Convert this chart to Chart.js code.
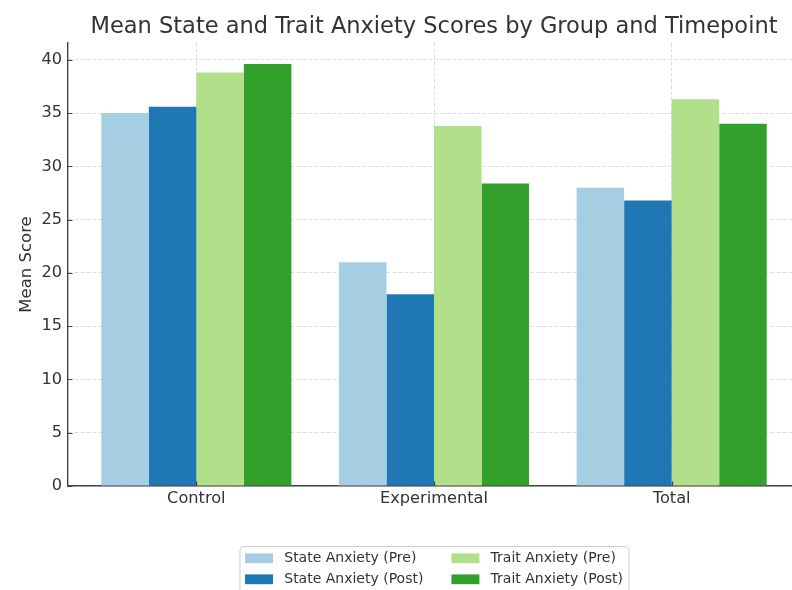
<!DOCTYPE html>
<html>
<head>
<meta charset="utf-8">
<script src="https://cdn.jsdelivr.net/npm/chart.js@4/dist/chart.umd.min.js"></script>
<style>
  html, body { margin: 0; padding: 0; background: #ffffff; overflow: hidden; }
  #wrap { width: 868px; height: 590px; }
</style>
</head>
<body>
<div id="wrap"><canvas id="chart" width="868" height="590"></canvas></div>
<script>
// Groups on the x axis
const groups = ['Control', 'Experimental', 'Total'];

// Mean scores per group
const statePre  = [35.0, 21.0, 28.0];
const statePost = [35.6, 18.0, 26.8];
const traitPre  = [38.8, 33.8, 36.3];
const traitPost = [39.6, 28.4, 34.0];

const seriesLabels = ['State Anxiety (Pre)', 'State Anxiety (Post)', 'Trait Anxiety (Pre)', 'Trait Anxiety (Post)'];
const seriesColors = ['#a6cee3', '#1f78b4', '#b2df8a', '#33a02c'];
const seriesValues = [statePre, statePost, traitPre, traitPost];

// y-axis tick labels
const yTicks = [0, 5, 10, 15, 20, 25, 30, 35, 40];

const FONT = '"DejaVu Sans", "Liberation Sans", sans-serif';
const TEXT = '#333333';

const datasets = seriesValues.map((vals, s) => ({
  label: seriesLabels[s],
  data: vals.map((v, i) => ({ x: i, y: v })),
  backgroundColor: seriesColors[s],
  borderWidth: 0,
  categoryPercentage: 0.8,
  barPercentage: 1.0
}));

// Small tick marks pointing into the plot area
const innerTicks = {
  id: 'innerTicks',
  afterDatasetsDraw(chart) {
    const { ctx, chartArea, scales } = chart;
    ctx.save();
    ctx.strokeStyle = '#444444';
    ctx.lineWidth = 1.2;
    ctx.beginPath();
    scales.y.ticks.forEach(t => {
      const py = Math.round(scales.y.getPixelForValue(t.value)) + 0.5;
      ctx.moveTo(chartArea.left, py);
      ctx.lineTo(chartArea.left + 4.5, py);
    });
    scales.x.ticks.forEach(t => {
      const px = Math.round(scales.x.getPixelForValue(t.value)) + 0.5;
      ctx.moveTo(px, chartArea.bottom);
      ctx.lineTo(px, chartArea.bottom - 4.5);
    });
    ctx.stroke();
    ctx.restore();
  }
};

// Boxed legend laid out in two columns (column-major)
const pairedLegend = {
  id: 'pairedLegend',
  afterDraw(chart) {
    const { ctx } = chart;
    const ds = chart.data.datasets;
    const fs = 14;
    const nRows = 2;
    const handleW = 2.0 * fs, handleH = 0.7 * fs;
    const textGap = 0.8 * fs, colGap = 2.0 * fs, pad = 0.4 * fs;
    const rowH = 21;
    ctx.save();
    ctx.font = fs + 'px ' + FONT;
    const cols = [];
    for (let i = 0; i < ds.length; i += nRows) cols.push(ds.slice(i, i + nRows));
    const colW = cols.map(c => handleW + textGap + Math.max(...c.map(d => ctx.measureText(d.label).width)));
    const boxW = pad * 2 + colW.reduce((a, b) => a + b, 0) + colGap * (cols.length - 1);
    const boxX = chart.width / 2 - boxW / 2;
    const boxY = chart.chartArea.bottom + 60;
    ctx.beginPath();
    ctx.roundRect(boxX + 0.5, boxY + 0.5, boxW, nRows * rowH + 20, 4);
    ctx.fillStyle = 'rgba(255,255,255,0.85)';
    ctx.fill();
    ctx.strokeStyle = '#cccccc';
    ctx.lineWidth = 1;
    ctx.stroke();
    let x = boxX + pad;
    cols.forEach((c, ci) => {
      c.forEach((d, ri) => {
        const cy = boxY + 12.3 + ri * rowH;
        ctx.fillStyle = d.backgroundColor;
        ctx.fillRect(x, cy - handleH / 2, handleW, handleH);
        ctx.fillStyle = TEXT;
        ctx.textBaseline = 'middle';
        ctx.textAlign = 'left';
        ctx.fillText(d.label, x + handleW + textGap, cy + 0.5);
      });
      x += colW[ci] + colGap;
    });
    ctx.restore();
  }
};

const gridStyle = { color: '#dadada', lineWidth: 0.9, drawTicks: false, offset: false };
const borderStyle = { display: true, color: '#444444', width: 1.4, dash: [4, 2] };

new Chart(document.getElementById('chart'), {
  type: 'bar',
  data: { datasets },
  plugins: [innerTicks, pairedLegend],
  options: {
    responsive: false,
    animation: false,
    layout: { padding: 0 },
    plugins: {
      legend: { display: false },
      tooltip: { enabled: false },
      title: {
        display: true,
        text: 'Mean State and Trait Anxiety Scores by Group and Timepoint',
        color: TEXT,
        font: { family: FONT, size: 22.5, weight: 'normal', lineHeight: 1.2 },
        padding: { top: 13.8, bottom: 2.2 }
      }
    },
    scales: {
      x: {
        type: 'linear',
        offset: false,
        min: -0.54,
        max: 2.54,
        grid: gridStyle,
        border: borderStyle,
        afterBuildTicks: scale => { scale.ticks = groups.map((g, i) => ({ value: i })); },
        afterFit: scale => { scale.height = 104; },
        ticks: {
          color: TEXT,
          font: { family: FONT, size: 16.2 },
          padding: 3,
          maxRotation: 0,
          autoSkip: false,
          callback: v => groups[v]
        }
      },
      y: {
        type: 'linear',
        min: 0,
        max: 41.58,
        grid: gridStyle,
        border: borderStyle,
        afterBuildTicks: scale => { scale.ticks = yTicks.map(v => ({ value: v })); },
        afterFit: scale => { scale.width = 68; },
        title: {
          display: true,
          text: 'Mean Score',
          color: TEXT,
          font: { family: FONT, size: 16.5, lineHeight: 1.2 },
          padding: { top: 16.5, bottom: 0 }
        },
        ticks: {
          color: TEXT,
          font: { family: FONT, size: 16.2 },
          padding: 6
        }
      },
      // empty margin on the right of the plot area
      yRight: {
        type: 'linear',
        position: 'right',
        display: true,
        grid: { display: false, drawTicks: false },
        border: { display: false },
        ticks: { display: false },
        afterFit: scale => { scale.width = 68; }
      }
    }
  }
});
</script>
</body>
</html>
